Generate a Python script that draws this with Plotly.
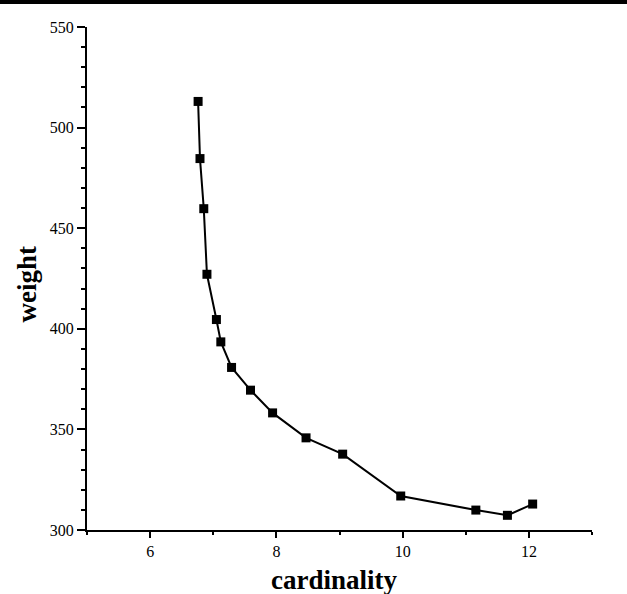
import plotly.graph_objects as go

cardinality = [6.76, 6.79, 6.85, 6.90, 7.05, 7.12, 7.29, 7.59, 7.94, 8.47, 9.05, 9.97, 11.16, 11.66, 12.06]
weight = [513.0, 484.6, 459.7, 427.1, 404.6, 393.5, 380.8, 369.5, 358.2, 345.8, 337.7, 316.9, 309.9, 307.3, 312.9]

x_ticks = [6, 8, 10, 12]
y_ticks = [300, 350, 400, 450, 500, 550]

FONT = "Liberation Serif"

fig = go.Figure()
fig.add_trace(go.Scatter(
    x=cardinality, y=weight, mode="lines+markers",
    line=dict(color="black", width=2),
    marker=dict(symbol="square", size=9, color="black"),
    showlegend=False,
))

axis_common = dict(
    showgrid=False, zeroline=False, showline=True, linecolor="black", linewidth=2,
    ticks="outside", tickwidth=1.5, tickcolor="black",
    tickfont=dict(family=FONT, size=16, color="black"),
)

fig.update_xaxes(range=[5, 13], tickvals=x_ticks, ticklen=6,
                 minor=dict(dtick=1, tick0=5, ticks="outside", ticklen=3, tickwidth=1.5, tickcolor="black"),
                 **axis_common)
fig.update_yaxes(range=[300, 550], tickvals=y_ticks, ticklen=8,
                 minor=dict(dtick=10, tick0=300, ticks="outside", ticklen=4, tickwidth=1.5, tickcolor="black"),
                 **axis_common)

fig.add_annotation(text="<b>cardinality</b>", xref="paper", yref="paper",
                   x=0.49, y=-0.0995, xanchor="center", yanchor="middle", showarrow=False,
                   font=dict(family=FONT, size=27, color="black"))
fig.add_annotation(text="<b>weight</b>", xref="paper", yref="paper",
                   x=-0.119, y=0.49, xanchor="center", yanchor="middle", showarrow=False, textangle=-90,
                   font=dict(family=FONT, size=27, color="black"))

# scan border line at top of image
fig.add_shape(type="line", xref="paper", yref="paper", x0=-0.18, x1=1.08, y0=1.0497, y1=1.0497,
              line=dict(color="black", width=4))

fig.update_layout(
    width=627, height=594,
    margin=dict(l=87, r=35, t=27, b=64),
    paper_bgcolor="white", plot_bgcolor="white",
)

fig.write_html("out.html", config={"displayModeBar": False},
               post_script="document.body.style.margin='0px';document.body.style.overflow='hidden';")
